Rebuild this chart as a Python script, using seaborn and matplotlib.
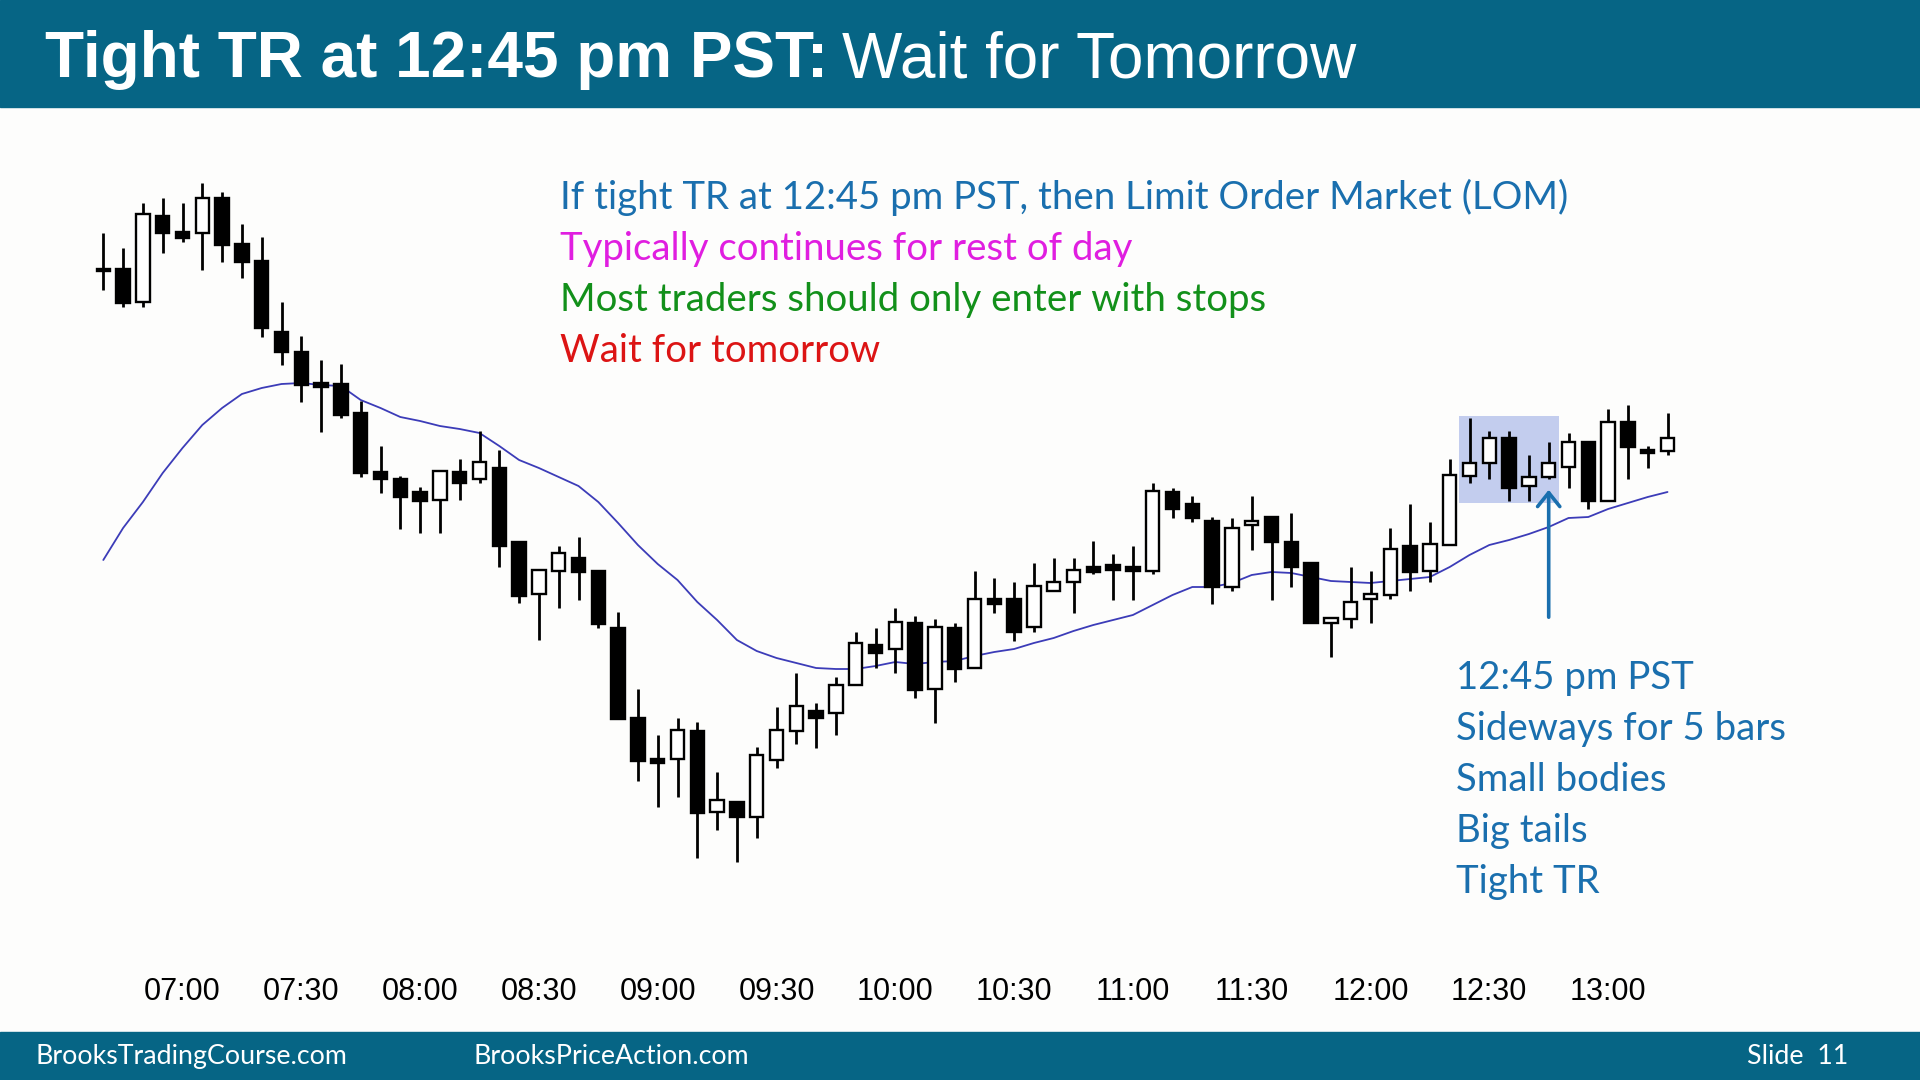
import numpy as np
import pandas as pd
import matplotlib
matplotlib.use('Agg')
import matplotlib.pyplot as plt
import seaborn as sns
from matplotlib.patches import Rectangle

# ============================================================
# DATA (5-min bars)
# ============================================================

opens = [731, 731, 698, 784, 768, 767, 802, 756, 739, 668,
         648, 617, 616, 587, 528, 521, 508, 500, 528, 521,
         532, 458, 406, 429, 442, 429, 372, 282, 241, 241,
         269, 188, 198, 183, 240, 269, 289, 287, 315, 355,
         351, 377, 311, 372, 332, 401, 401, 373, 409, 418,
         433, 435, 433, 429, 508, 496, 479, 413, 475, 483,
         458, 437, 377, 381, 401, 405, 454, 429, 455, 524,
         537, 562, 514, 523, 533, 558, 499, 578, 550, 549]
highs = [767, 752, 797, 802, 797, 817, 808, 776, 763, 698,
         664, 640, 636, 599, 554, 524, 513, 530, 541, 569,
         550, 458, 430, 454, 463, 429, 388, 311, 265, 282,
         278, 228, 198, 253, 293, 327, 297, 323, 368, 372,
         392, 384, 381, 377, 429, 422, 418, 437, 442, 442,
         459, 446, 454, 517, 512, 504, 483, 482, 504, 483,
         487, 437, 383, 433, 429, 472, 496, 478, 541, 582,
         569, 569, 545, 558, 567, 558, 591, 595, 554, 587]
lows = [710, 693, 693, 747, 758, 730, 738, 722, 663, 635,
        598, 568, 582, 523, 507, 471, 467, 467, 500, 517,
        433, 397, 360, 392, 400, 372, 281, 219, 193, 203,
        142, 170, 138, 162, 232, 256, 252, 265, 315, 332,
        327, 302, 277, 318, 332, 387, 359, 368, 409, 387,
        426, 400, 400, 426, 482, 478, 396, 409, 450, 400,
        413, 377, 343, 372, 377, 401, 409, 418, 455, 517,
        521, 499, 499, 521, 512, 491, 499, 521, 532, 545]
closes = [729, 697, 786, 767, 762, 802, 755, 738, 672, 648,
          615, 613, 585, 527, 521, 503, 499, 529, 517, 538,
          454, 404, 430, 447, 428, 376, 281, 239, 237, 270,
          187, 200, 183, 245, 270, 294, 282, 315, 357, 347,
          378, 310, 373, 331, 401, 396, 368, 414, 418, 430,
          428, 430, 429, 509, 491, 482, 413, 472, 479, 458,
          433, 377, 382, 398, 406, 451, 428, 456, 525, 537,
          562, 512, 523, 537, 558, 499, 578, 553, 547, 562]
ema20 = [440, 472, 498, 527, 552, 575, 592, 606, 612, 616,
         617, 615, 614, 600, 592, 583, 579, 574, 571, 567,
         554, 540, 532, 523, 514, 498, 477, 455, 436, 420,
         398, 380, 360, 349, 342, 337, 332, 331, 331, 334,
         338, 336, 338, 339, 344, 348, 351, 357, 362, 369,
         375, 380, 385, 395, 405, 413, 413, 417, 425, 428,
         427, 423, 419, 418, 417, 419, 421, 423, 433, 445,
         455, 460, 466, 473, 482, 483, 491, 497, 503, 508]

first_bar = '06:40'
tr_bars = [69, 70, 71, 72, 73]    # tight trading range, 12:25 - 12:45
arrow_bar = 73                    # the 12:45 bar

title_bold = 'Tight TR at 12:45 pm PST:'
title_rest = 'Wait for Tomorrow'
notes_top = ['If tight TR at 12:45 pm PST, then Limit Order Market (LOM)',
             'Typically continues for rest of day',
             'Most traders should only enter with stops',
             'Wait for tomorrow']
notes_top_colors = ['#1a6fae', '#e01ee0', '#12901a', '#dc1414']
notes_right = ['12:45 pm PST', 'Sideways for 5 bars', 'Small bodies',
               'Big tails', 'Tight TR']
footer_left = ['BrooksTradingCourse.com', 'BrooksPriceAction.com']
footer_right = 'Slide  11'

df = pd.DataFrame({'open': opens, 'high': highs, 'low': lows,
                   'close': closes, 'ema': ema20})
df['bar'] = np.arange(len(df))
df['time'] = pd.date_range('2024-01-02 ' + first_bar, periods=len(df), freq='5min')

# ============================================================
# STYLE
# ============================================================

sns.set_theme(style='white')
plt.rcParams['font.family'] = ['Liberation Sans', 'DejaVu Sans']

W, H = 1920, 1080
BG = '#fdfdfc'
BAND = '#066585'
BLUE = '#1a6fae'
NOTE_FONT = ['Lato', 'DejaVu Sans']

fig = plt.figure(figsize=(19.2, 10.8), dpi=100, facecolor=BG)

def fx(px):
    return px / W

def fy(py):
    return 1 - py / H

# header / footer bands
fig.patches.append(Rectangle((0, fy(107)), 1, 107 / H, transform=fig.transFigure,
                             color=BAND, zorder=0))
fig.patches.append(Rectangle((0, 0), 1, (H - 1032) / H, transform=fig.transFigure,
                             color=BAND, zorder=0))

# ============================================================
# CANDLES
# ============================================================

ax = fig.add_axes([fx(73.6), fy(960), fx(1766.5 - 73.6), (960 - 170) / H])
ax.set_facecolor(BG)
ax.set_xlim(-1.5, 84)
ax.set_ylim(40, 830)

# trading range box
tr = df.loc[tr_bars]
box_lo, box_hi = tr['low'].min() - 2, tr['high'].max() + 2
ax.add_patch(Rectangle((tr_bars[0] - 0.55, box_lo), len(tr_bars) + 0.05, box_hi - box_lo,
                       color='#c3cdee', zorder=0, lw=0))

ax.vlines(df['bar'], df['low'], df['high'], color='black', lw=2.0, zorder=2)
bear = df['close'] < df['open']
body_bot = df[['open', 'close']].min(axis=1)
body_h = (df['close'] - df['open']).abs().clip(lower=1.5)
ax.bar(df['bar'], body_h, bottom=body_bot, width=0.67,
       color=np.where(bear, 'black', 'white'), edgecolor='black', linewidth=1.7, zorder=3)

sns.lineplot(data=df, x='bar', y='ema', color='#3c3cb8', lw=1.3, ax=ax, zorder=1)

# arrow at the 12:45 bar
ax.annotate('', xy=(arrow_bar, df.loc[arrow_bar, 'low'] - 8), xytext=(arrow_bar, 380),
            arrowprops=dict(arrowstyle='->, head_length=0.5, head_width=0.4',
                            mutation_scale=20, color=BLUE, lw=2.6))

# time axis
ticks = df[df['time'].dt.minute % 30 == 0]
ax.set_xticks(ticks['bar'])
ax.set_xticklabels(ticks['time'].dt.strftime('%H:%M'), fontsize=22, color='black')
ax.tick_params(axis='x', length=0, pad=12)
ax.set_yticks([])
ax.set_xlabel('')
ax.set_ylabel('')
for s in ax.spines.values():
    s.set_visible(False)

# ============================================================
# TEXT
# ============================================================

t1 = fig.text(fx(45), fy(77), title_bold, fontsize=46, fontweight='bold', color='white',
              va='baseline', ha='left')
fig.canvas.draw()
bb = t1.get_window_extent()
fig.text(bb.x1 / W + fx(14), fy(77), title_rest, fontsize=46, color='white',
         va='baseline', ha='left')

for i, (line, col) in enumerate(zip(notes_top, notes_top_colors)):
    fig.text(fx(560), fy(209 + 51 * i), line, fontsize=27.6, color=col,
             family=NOTE_FONT, va='baseline', ha='left')

for i, line in enumerate(notes_right):
    fig.text(fx(1456), fy(689 + 51 * i), line, fontsize=27.6, color=BLUE,
             family=NOTE_FONT, va='baseline', ha='left')

fig.text(fx(36), fy(1064), footer_left[0], fontsize=19.3, color='white',
         family=NOTE_FONT, va='baseline')
fig.text(fx(474), fy(1064), footer_left[1], fontsize=19.3, color='white',
         family=NOTE_FONT, va='baseline')
fig.text(fx(1848), fy(1064), footer_right, fontsize=19.3, color='white',
         family=NOTE_FONT, va='baseline', ha='right')

plt.savefig('out.png', dpi=100, facecolor=BG)
